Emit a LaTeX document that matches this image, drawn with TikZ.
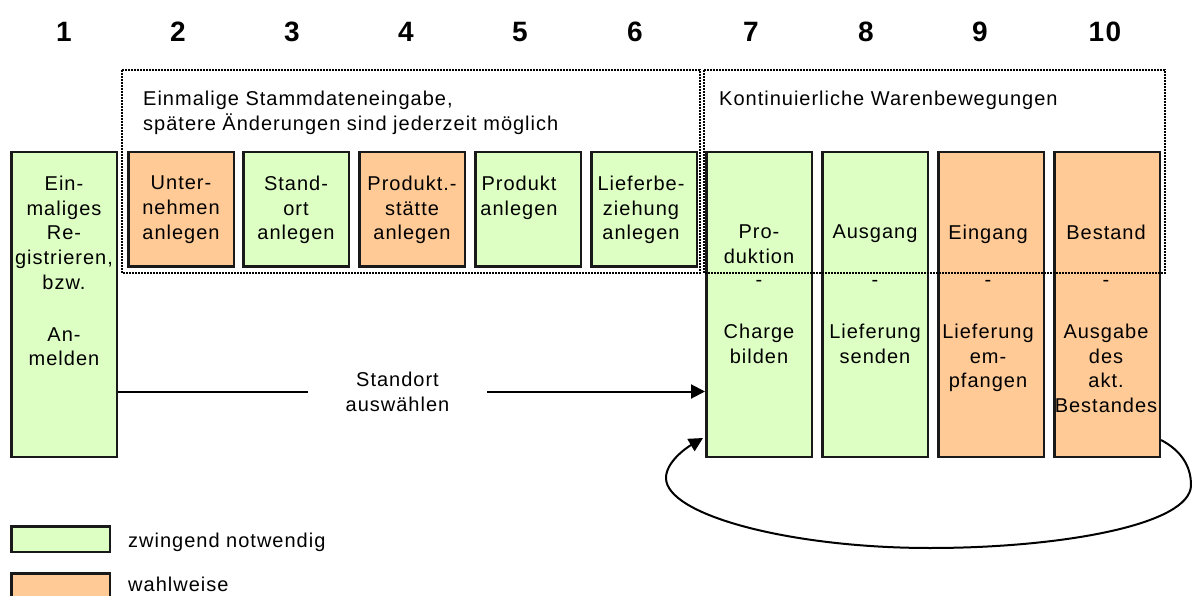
\documentclass[tikz,border=0pt]{standalone}
\usepackage{fontspec}
\setmainfont{Liberation Sans}[LetterSpace=5]
\usetikzlibrary{arrows.meta,calc}
\definecolor{mustgreen}{HTML}{DEFFC4}
\definecolor{optorange}{HTML}{FFCA96}
\begin{document}
\begin{tikzpicture}[x=1pt,y=-1pt,
  box/.style={draw=black!90, line width=2.5pt, inner sep=0pt, minimum width=105.5pt},
  tallbox/.style={minimum height=304.5pt},
  shortbox/.style={minimum height=114.5pt},
  gbox/.style={box, fill=mustgreen},
  obox/.style={box, fill=optorange},
  txt/.style={font=\fontsize{20}{24.75}\selectfont, align=center, inner sep=0pt, anchor=north},
  dashtxt/.style={font=\fontsize{20}{24.75}\selectfont, inner sep=0pt, anchor=base},
  num/.style={font=\fontsize{28}{30}\selectfont\bfseries, anchor=base, inner sep=0pt},
  grp/.style={draw=black, line width=1.8pt, dash pattern=on 1.6pt off 1.4pt},
  conn/.style={draw=black, line width=2pt, -{Triangle[length=14pt,width=14pt]}},
  plain/.style={draw=black, line width=2pt},
]
\useasboundingbox (0,0) rectangle (1192,596);
\clip (0,0) rectangle (1192,596);

% column numbers
\node[num] (n1) at (64,42) {1};
\node[num] (n2) at (178,42) {2};
\node[num] (n3) at (292,42) {3};
\node[num] (n4) at (406,42) {4};
\node[num] (n5) at (520,42) {5};
\node[num] (n6) at (635,42) {6};
\node[num] (n7) at (751,42) {7};
\node[num] (n8) at (866,42) {8};
\node[num] (n9) at (980,42) {9};
\node[num] (n10) at (1105,42) {10};

% boxes
\node[gbox, tallbox] (b1) at (64,304.5) {};
\node[obox, shortbox] (b2) at (181,209.5) {};
\node[gbox, shortbox] (b3) at (296,209.5) {};
\node[obox, shortbox] (b4) at (412,209.5) {};
\node[gbox, shortbox] (b5) at (528,209.5) {};
\node[gbox, shortbox] (b6) at (644,209.5) {};
\node[gbox, tallbox] (b7) at (759,304.5) {};
\node[gbox, tallbox] (b8) at (875,304.5) {};
\node[obox, tallbox] (b9) at (991,304.5) {};
\node[obox, tallbox] (b10) at (1107,304.5) {};

% box texts
\node[txt] (t1) at (64,175.7) {Ein-\\maliges\\Re-\\gistrieren,\\bzw.\\[27pt]An-\\melden};
\node[txt] (t2) at (181,175.7) {Unter-\\nehmen\\anlegen};
\node[txt] (t3) at (296,175.7) {Stand-\\ort\\anlegen};
\node[txt] (t4) at (412,175.7) {Produkt.-\\stätte\\anlegen};
\node[txt] (t5) at (519,175.7) {Produkt\\anlegen};
\node[txt] (t6) at (641,175.7) {Lieferbe-\\ziehung\\anlegen};

\node[txt] (t7a) at (759,224.7) {Pro-\\duktion};
\node[dashtxt] (t7b) at (759,287) {-};
\node[txt] (t7c) at (759,323.7) {Charge\\bilden};

\node[txt] (t8a) at (875,224.7) {Ausgang};
\node[dashtxt] (t8b) at (875,287) {-};
\node[txt] (t8c) at (875,323.7) {Lieferung\\senden};

\node[txt] (t9a) at (988,224.7) {Eingang};
\node[dashtxt] (t9b) at (988,287) {-};
\node[txt] (t9c) at (988,323.7) {Lieferung\\em-\\pfangen};

\node[txt] (t10a) at (1106,224.7) {Bestand};
\node[dashtxt] (t10b) at (1106,287) {-};
\node[txt] (t10c) at (1106,323.7) {Ausgabe\\des\\akt.\\Bestandes};

% group frames
\draw[grp] (122,70) rectangle (700,273);
\draw[grp] (704,70) rectangle (1165,273);
\node[txt, anchor=north west, align=left] (g1) at (143,90.7) {Einmalige Stammdateneingabe,\\spätere Änderungen sind jederzeit möglich};
\node[txt, anchor=north west, align=left] (g2) at (719,90.7) {Kontinuierliche Warenbewegungen};

% selection arrow
\node[txt, anchor=center, minimum width=179pt] (sel) at (397.5,391.5) {Standort\\auswählen};
\draw[plain] (b1.east |- sel.west) -- (sel.west);
\draw[conn] (sel.east) -- (b7.west |- sel.east);

% loop
\coordinate (ls) at ($(b10.south east)+(0,-18)$);
\coordinate (le) at ($(b7.south west)+(-2,-20)$);
\draw[conn] (ls) .. controls (1180,450) and (1191,465) .. (1191,485)
  .. controls (1191,525) and (1060,548) .. (930,548)
  .. controls (790,548) and (666,515) .. (666,478)
  .. controls (666,462) and (686,448) .. (le);

% legend
\node[gbox, minimum width=98.5pt, minimum height=25.5pt] (lg) at (60.5,539) {};
\node[obox, minimum width=98.5pt, minimum height=25.5pt] (lo) at (60.5,586) {};
\node[dashtxt, anchor=base west] (lgt) at (128,547) {zwingend notwendig};
\node[dashtxt, anchor=base west] (lot) at (128,591) {wahlweise};
\end{tikzpicture}
\end{document}
